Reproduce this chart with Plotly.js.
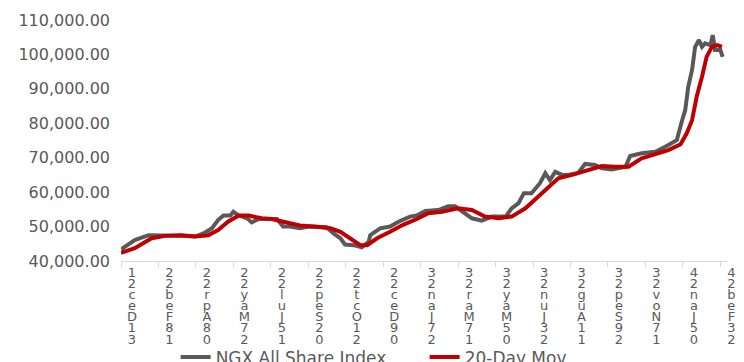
<!DOCTYPE html>
<html>
<head>
<meta charset="utf-8">
<script src="https://cdn.plot.ly/plotly-3.0.1.min.js"></script>
<style>
  html, body { margin: 0; padding: 0; background: #ffffff; }
  #chart { width: 744px; height: 362px; }
</style>
</head>
<body>
<div id="chart"></div>
<script>
// NGX All Share Index
const ngxDates = [
  '2021-12-31','2022-01-18','2022-02-05','2022-02-27','2022-03-20','2022-04-07','2022-04-18','2022-04-29',
  '2022-05-07','2022-05-14','2022-05-23','2022-05-27','2022-06-03','2022-06-14','2022-06-20','2022-06-29',
  '2022-07-14','2022-07-23','2022-07-31','2022-08-09','2022-08-22','2022-09-04','2022-09-26','2022-10-05',
  '2022-10-14','2022-10-20','2022-10-31','2022-11-11','2022-11-20','2022-11-22','2022-12-05','2022-12-18',
  '2022-12-29','2023-01-13','2023-01-22','2023-02-02','2023-02-19','2023-03-04','2023-03-13','2023-03-24',
  '2023-04-04','2023-04-17','2023-04-30','2023-05-18','2023-05-26','2023-06-04','2023-06-11','2023-06-21',
  '2023-07-02','2023-07-09','2023-07-15','2023-07-22','2023-07-31','2023-08-08','2023-08-21','2023-08-30',
  '2023-09-12','2023-09-21','2023-10-04','2023-10-22','2023-10-28','2023-11-12','2023-11-30','2023-12-13',
  '2023-12-22','2023-12-28','2024-01-04','2024-01-08','2024-01-12','2024-01-17','2024-01-21','2024-01-26',
  '2024-01-30','2024-02-03','2024-02-10','2024-02-13','2024-02-16','2024-02-23','2024-02-26'
];
const ngxValues = [
  43400,46100,47500,47500,47300,47100,48000,49500,
  51900,53200,53200,54300,53200,52400,51200,52200,
  52300,52200,50000,50000,49500,50000,49800,48000,
  46600,44800,44600,44000,45600,47500,49500,50000,
  51400,52900,53200,54500,54800,55900,55900,54300,
  52400,51700,52900,52900,55300,56800,59700,59700,
  62600,65500,63500,65900,65000,65000,65600,68200,
  67900,66900,66600,67400,70500,71300,71700,73200,
  74400,75100,80900,83800,90600,95500,102200,104200,
  102200,103200,102700,105600,101300,101300,99300
];

// 20-Day Moving Average
const maDates = [
  '2021-12-31','2022-01-18','2022-02-09','2022-02-27','2022-03-20','2022-04-07','2022-04-24','2022-05-07',
  '2022-05-20','2022-06-03','2022-06-16','2022-07-03','2022-07-16','2022-07-31','2022-08-22','2022-09-09',
  '2022-10-01','2022-10-14','2022-10-27','2022-11-09','2022-11-18','2022-12-01','2022-12-18','2023-01-04',
  '2023-01-22','2023-02-06','2023-02-24','2023-03-17','2023-04-04','2023-04-21','2023-05-09','2023-05-26',
  '2023-06-13','2023-06-30','2023-07-13','2023-07-26','2023-08-13','2023-09-04','2023-09-21','2023-10-08',
  '2023-10-26','2023-11-12','2023-11-30','2023-12-17','2024-01-02','2024-01-10','2024-01-17','2024-01-23',
  '2024-01-30','2024-02-05','2024-02-12','2024-02-19','2024-02-25'
];
const maValues = [
  42400,43700,46600,47300,47500,47100,47500,49000,
  51400,53200,53200,52400,52200,51400,50300,50000,
  49500,48500,46600,44600,44600,46600,48500,50500,
  52200,53900,54300,55300,54800,52900,52400,52900,
  55300,58700,61600,64000,65000,66600,67600,67400,
  67400,69800,71100,72200,73900,77100,80900,87700,
  93500,99300,102200,102700,102200
];

// Category tick dates and their labels
const tickDates = [
  '2021-12-31','2022-02-18','2022-04-08','2022-05-27','2022-07-15','2022-09-02','2022-10-21','2022-12-09',
  '2023-01-27','2023-03-17','2023-05-05','2023-06-23','2023-08-11','2023-09-29','2023-11-17','2024-01-05',
  '2024-02-23'
];
const tickLabels = [
  '31-Dec-21','18-Feb-22','08-Apr-22','27-May-22','15-Jul-22','02-Sep-22','21-Oct-22','09-Dec-22',
  '27-Jan-23','17-Mar-23','05-May-23','23-Jun-23','11-Aug-23','29-Sep-23','17-Nov-23','05-Jan-24',
  '23-Feb-24'
];
const yTicks = [40000, 50000, 60000, 70000, 80000, 90000, 100000, 110000];
const seriesNames = ['NGX All Share Index', '20-Day Mov'];

// stacked-character labels, as in the reference
const stackedLabels = tickLabels.map(function (s) {
  return s.replace(/-/g, '').split('').reverse()
    .map(function (c) { return '<span style="font-size:13px">' + c + '</span>'; })
    .join('<br>');
});

const FONT = 'DejaVu Sans, Verdana, sans-serif';
const GREY = '#595959';

const data = [
  {
    x: ngxDates, y: ngxValues, name: seriesNames[0], type: 'scatter', mode: 'lines',
    line: { color: '#595959', width: 4 }, hoverinfo: 'x+y'
  },
  {
    x: maDates, y: maValues, name: seriesNames[1], type: 'scatter', mode: 'lines',
    line: { color: '#C00000', width: 4 }, hoverinfo: 'x+y'
  }
];

const layout = {
  width: 744, height: 362,
  margin: { l: 121, r: 16, t: 20, b: 101, pad: 0 },
  paper_bgcolor: '#ffffff', plot_bgcolor: '#ffffff',
  font: { family: FONT, color: GREY },
  showlegend: true,
  legend: {
    orientation: 'h',
    xref: 'paper', x: 0.09, xanchor: 'left',
    yref: 'container', y: 0.062, yanchor: 'top',
    font: { family: FONT, size: 17, color: GREY },
    entrywidth: 204, bgcolor: 'rgba(0,0,0,0)'
  },
  xaxis: {
    type: 'date',
    range: ['2021-12-31', '2024-03-04'],
    tickmode: 'array', tickvals: tickDates, ticktext: stackedLabels,
    tickangle: 0,
    tickfont: { family: FONT, size: 8.5, color: GREY },
    ticklabelshift: 11,
    showline: true, linecolor: '#d9d9d9', linewidth: 1,
    ticks: 'outside', ticklen: 5, tickcolor: '#d9d9d9', tickwidth: 1,
    showgrid: false, zeroline: false, fixedrange: true, automargin: false
  },
  yaxis: {
    range: [40000, 110000],
    tickmode: 'array', tickvals: yTicks,
    tickformat: ',.2f',
    tickfont: { family: FONT, size: 16, color: GREY },
    ticklabelstandoff: 10,
    showline: false, showgrid: false, zeroline: false, ticks: '', fixedrange: true, automargin: false
  }
};

Plotly.newPlot('chart', data, layout, { displayModeBar: false, staticPlot: true });
</script>
</body>
</html>
